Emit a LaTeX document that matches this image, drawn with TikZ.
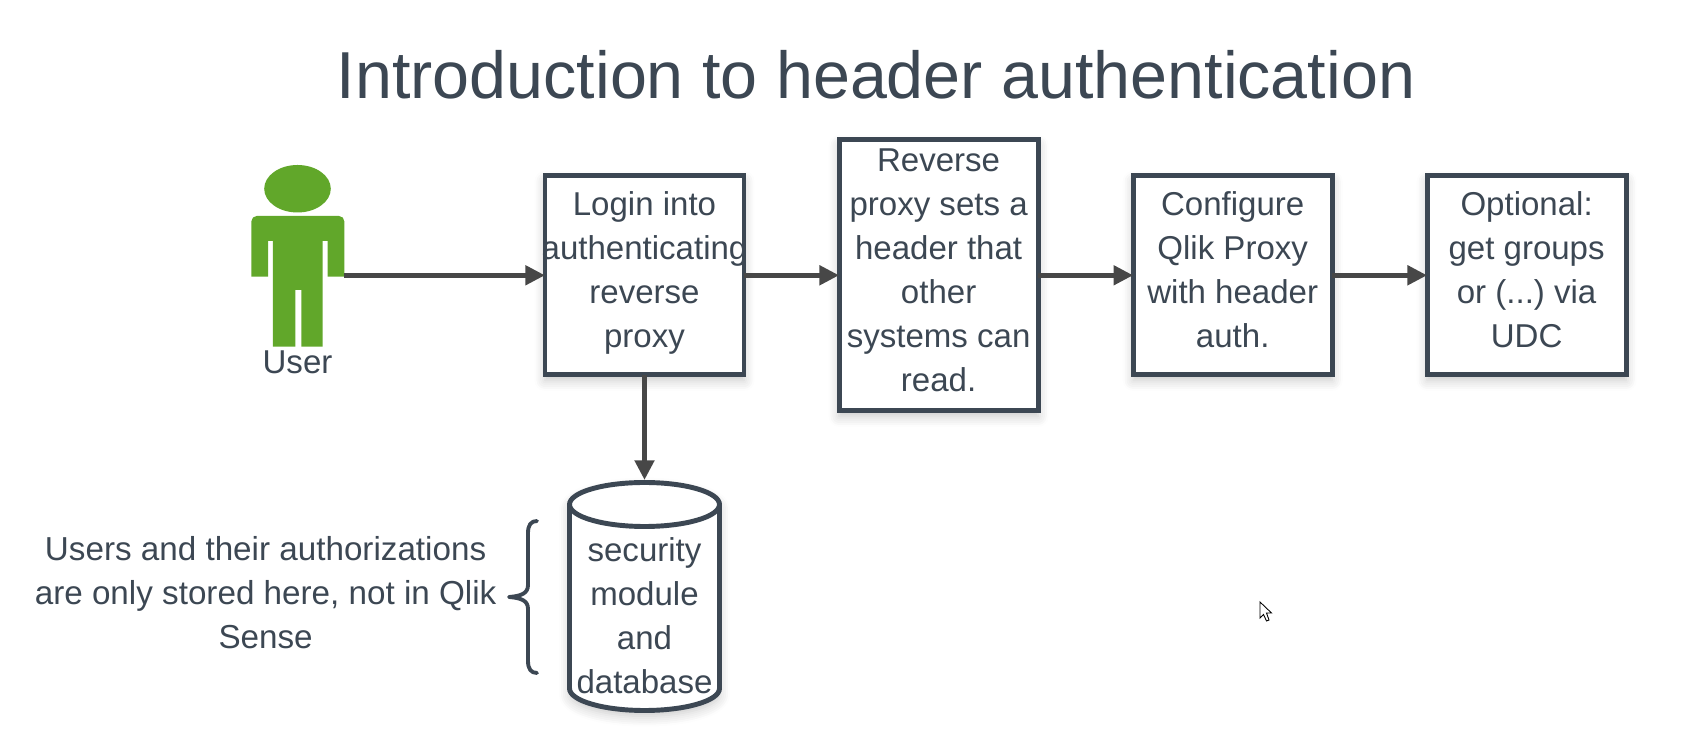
\documentclass[tikz,border=0pt]{standalone}
\usepackage{fontspec}
\setmainfont{Liberation Sans}
\usetikzlibrary{arrows.meta,shadows.blur}
\definecolor{inkblue}{HTML}{3C4753}
\definecolor{connGray}{HTML}{474747}
\definecolor{userGreen}{HTML}{61A72A}
\newcommand{\botpad}{\rule[-3.1pt]{0pt}{3.1pt}}
\tikzset{
  softshadow/.style={blur shadow={shadow blur steps=6,shadow xshift=0pt,shadow yshift=-1.6pt,shadow blur radius=3pt,shadow opacity=22}},
  bodytext/.style={text=inkblue,font=\fontsize{9.4}{12.5}\selectfont,align=center,inner sep=0pt,outer sep=0pt},
  stepbox/.style={bodytext,draw=inkblue,line width=1.4pt,fill=white,minimum width=1.99cm,softshadow},
  conn/.style={draw=connGray,line width=1.4pt,-{Triangle[length=5.6pt,width=5.4pt]}},
}
\begin{document}
\begin{tikzpicture}
    \useasboundingbox (0,0) rectangle (16.83,7.45);

    % title
    \node[text=inkblue,font=\fontsize{18.9}{22}\selectfont,inner sep=0pt] (title) at (8.76,6.7) {Introduction to header authentication};

    % user
    \fill[userGreen] (2.975,5.5625) ellipse (.333 and .2375);
    \fill[userGreen] (2.514,4.683) [rounded corners=1.5pt] -- (2.514,5.29) -- (3.443,5.29) [sharp corners] -- (3.443,4.683) -- (3.275,4.683) -- (3.275,5.04) -- (3.225,5.04) -- (3.225,3.983) -- (3.014,3.983) -- (3.014,4.55) -- (2.954,4.55) -- (2.954,3.983) -- (2.729,3.983) -- (2.729,5.04) -- (2.682,5.04) -- (2.682,4.683) -- cycle;
    \coordinate (hand) at (3.443,4.697);
    \node[bodytext] (user) at (2.975,3.83) {User};

    % boxes
    \node[stepbox,minimum height=1.99cm] (login) at (6.445,4.697) {Login into\\\makebox[0pt]{authenticating}\\reverse\\proxy\botpad};
    \node[stepbox,minimum height=2.71cm] (header) at (9.386,4.697) {Reverse\\proxy sets a\\header that\\other\\systems can\\read.\botpad};
    \node[stepbox,minimum height=1.99cm] (qlik) at (12.327,4.697) {Configure\\Qlik Proxy\\with header\\auth.\botpad};
    \node[stepbox,minimum height=1.99cm] (udc) at (15.266,4.697) {Optional:\\get groups\\or (...)\ via\\UDC\botpad};

    % database
    \draw[draw=inkblue,line width=1.4pt,fill=white,softshadow] (5.695,2.405) arc[start angle=180,end angle=0,x radius=.75,y radius=.22] -- (7.195,.565) arc[start angle=0,end angle=-180,x radius=.75,y radius=.22] -- cycle;
    \draw[draw=inkblue,line width=1.4pt] (5.695,2.405) arc[start angle=180,end angle=360,x radius=.75,y radius=.22];
    \coordinate (dbtop) at (6.445,2.65);
    \node[bodytext] (db) at (6.445,1.295) {security\\module\\and\\database};
    \node[bodytext,font=\fontsize{9.45}{12.5}\selectfont] (note) at (2.656,1.525) {Users and their authorizations\\are only stored here, not in Qlik\\Sense};

    % brace
    \draw[inkblue,line width=1.1pt,line cap=round,line join=round] (5.37,2.24) .. controls (5.31,2.24) and (5.28,2.2) .. (5.28,2.12) -- (5.28,1.6) .. controls (5.28,1.52) and (5.22,1.49) .. (5.09,1.48) .. controls (5.22,1.47) and (5.28,1.44) .. (5.28,1.36) -- (5.28,.84) .. controls (5.28,.76) and (5.31,.72) .. (5.37,.72);

    % connectors
    \draw[conn] (hand) -- (login);
    \draw[conn] (login) -- (header);
    \draw[conn] (header) -- (qlik);
    \draw[conn] (qlik) -- (udc);
    \draw[conn] (login) -- (dbtop);

    % cursor
    \filldraw[fill=white,draw=black,line width=.25pt] (12.6,1.43) -- (12.6,1.27) -- (12.635,1.305) -- (12.665,1.24) -- (12.69,1.25) -- (12.665,1.32) -- (12.715,1.32) -- cycle;
\end{tikzpicture}
\end{document}
